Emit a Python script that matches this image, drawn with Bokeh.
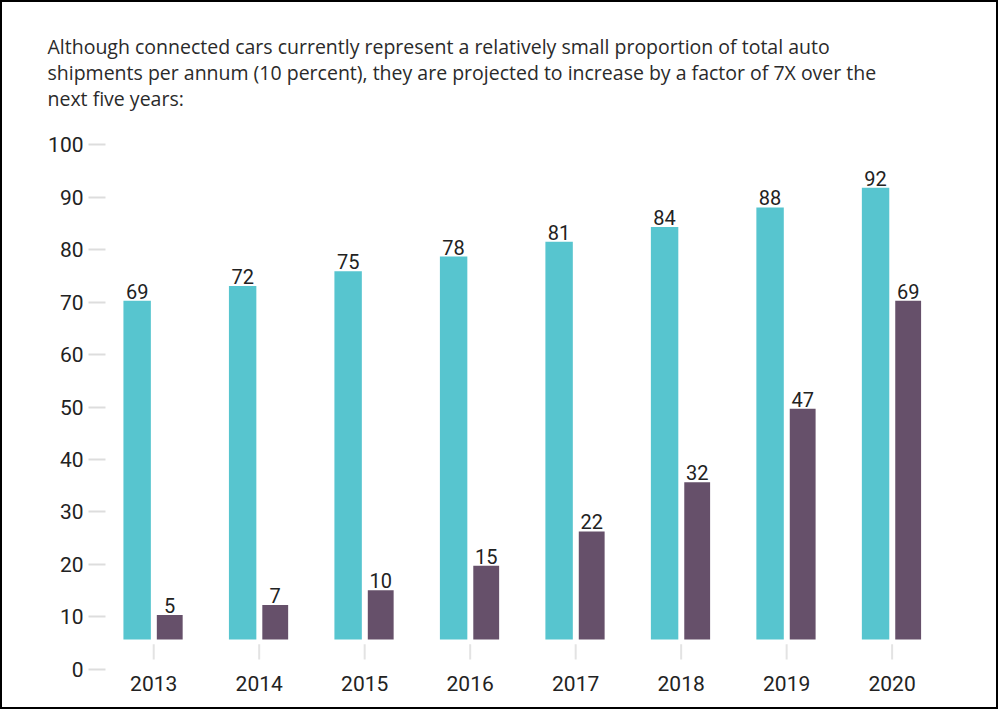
from bokeh.plotting import figure
from bokeh.models import Range1d, LinearAxis, FixedTicker, ColumnDataSource
from bokeh.embed import file_html
from bokeh.resources import INLINE
from bokeh.core.properties import value
from bokeh.transform import dodge

years = ["2013", "2014", "2015", "2016", "2017", "2018", "2019", "2020"]
total_cars = [69, 72, 75, 78, 81, 84, 88, 92]
connected_cars = [5, 7, 10, 15, 22, 32, 47, 69]
y_ticks = [0, 10, 20, 30, 40, 50, 60, 70, 80, 90, 100]

title_text = ("Although connected cars currently represent a relatively small proportion of total auto\n"
              "shipments per annum (10 percent), they are projected to increase by a factor of 7X over the\n"
              "next five years:")

TEAL = "#57C5CF"
PURPLE = "#66506A"

pos = list(range(len(years)))
src = ColumnDataSource(dict(
    x=pos, total=total_cars, conn=connected_cars,
    tl=[str(v) for v in total_cars], cl=[str(v) for v in connected_cars],
))

p = figure(width=998, height=709, output_backend="svg", toolbar_location=None,
           x_range=Range1d(-0.457, 7.686), y_range=Range1d(-6.53, 104.08),
           y_axis_location=None,
           min_border_left=103, min_border_right=36, min_border_top=126, min_border_bottom=40)
p.styles = {"border": "2px solid black"}
p.outline_line_color = None
p.xgrid.visible = False
p.ygrid.visible = False
p.background_fill_color = "white"
p.border_fill_color = "white"

# title
p.title.text = title_text
p.title.text_font = "Open Sans"
p.title.text_font_size = "19.5px"
p.title.text_font_style = "normal"
p.title.text_color = "#2a2a2a"
p.title.text_line_height = 0.98
p.title.offset = -58
p.title.standoff = 32

# x axis
xa = p.xaxis[0]
xa.ticker = FixedTicker(ticks=pos)
xa.major_label_overrides = {i: y for i, y in enumerate(years)}
xa.axis_line_color = None
xa.major_tick_line_color = None
xa.minor_tick_line_color = None
xa.major_tick_in = 0
xa.major_tick_out = 0
xa.major_label_standoff = 4
xa.major_label_text_font = "Roboto"
xa.major_label_text_font_size = "21px"
xa.major_label_text_color = "#222222"

# y axis (separate scale, as in the reference)
p.extra_y_ranges = {"axis": Range1d(-0.382, 103.05)}
ya = LinearAxis(y_range_name="axis", ticker=FixedTicker(ticks=y_ticks))
ya.axis_line_color = None
ya.major_tick_in = 0
ya.major_tick_out = 17
ya.major_tick_line_color = "#dddddd"
ya.major_tick_line_width = 2
ya.minor_tick_line_color = None
ya.major_label_standoff = 5
ya.major_label_text_font = "Roboto"
ya.major_label_text_font_size = "21px"
ya.major_label_text_color = "#222222"
p.add_layout(ya, "left")

# category tick marks under bars
p.segment(x0="x", y0=-1.0, x1="x", y1=-4.1, source=src, line_color="#e3e3e3", line_width=2)

# bars
p.vbar(x=dodge("x", -0.157, range=p.x_range), top="total", bottom=0, width=0.26,
       source=src, fill_color=TEAL, line_color=None)
p.vbar(x=dodge("x", 0.152, range=p.x_range), top="conn", bottom=0, width=0.245,
       source=src, fill_color=PURPLE, line_color=None)

# value labels
p.text(x=dodge("x", -0.157, range=p.x_range), y="total", text="tl", source=src,
       text_align="center", text_baseline="bottom", y_offset=-2,
       text_font=value("Roboto"), text_font_size="20px", text_color="#222222")
p.text(x=dodge("x", 0.152, range=p.x_range), y="conn", text="cl", source=src,
       text_align="center", text_baseline="bottom", y_offset=-2,
       text_font=value("Roboto"), text_font_size="20px", text_color="#222222")

open("out.html", "w").write(file_html(p, INLINE))
